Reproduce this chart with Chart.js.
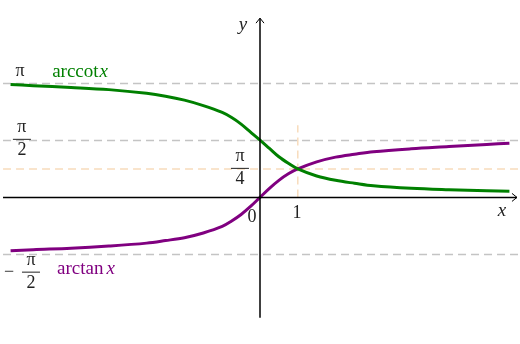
<!DOCTYPE html>
<html>
<head>
<meta charset="utf-8">
<script src="https://cdn.jsdelivr.net/npm/chart.js@4.4.1/dist/chart.umd.min.js"></script>
<style>
  html, body { margin: 0; padding: 0; background: #fff; }
  #wrap { position: relative; width: 520px; height: 344px; }
</style>
</head>
<body>
<div id="wrap"><canvas id="c" width="520" height="344"></canvas></div>
<script>
// x sample positions and curve values
const xs = [-6.6, -6, -5, -4, -3, -2.5, -2, -1.5, -1, -0.75, -0.5, -0.25, 0,
            0.25, 0.5, 0.75, 1, 1.5, 2, 2.5, 3, 4, 5, 6, 6.6];
const arctanVals = [-1.47, -1.44, -1.40, -1.34, -1.26, -1.19, -1.11, -0.98, -0.80, -0.65, -0.47, -0.25, 0,
                    0.25, 0.47, 0.65, 0.785, 0.98, 1.11, 1.19, 1.26, 1.34, 1.40, 1.46, 1.49];
const arccotVals = [3.11, 3.08, 3.03, 2.97, 2.87, 2.79, 2.68, 2.53, 2.34, 2.20, 2.02, 1.80, 1.58,
                    1.35, 1.12, 0.94, 0.785, 0.59, 0.47, 0.39, 0.32, 0.25, 0.21, 0.18, 0.17];

// reference levels
const PI = Math.PI;
const grayLevels = [PI, PI / 2, -PI / 2];
const peachLevel = PI / 4;

// view window (data units)
const X_MIN = -6.88, X_MAX = 6.88;
const Y_MIN = -4.04, Y_MAX = 5.44;

const toPts = (vals) => xs.map((x, i) => ({ x: x, y: vals[i] }));

const hLine = (y, color) => ({
  data: [{ x: -6.8, y: y }, { x: X_MAX, y: y }],
  borderColor: color,
  borderWidth: 1.5,
  borderDash: [8, 5],
  pointRadius: 0,
  showLine: true,
  order: 5,
});

// axes + arrows + text labels
const decor = {
  id: "decor",
  afterDatasetsDraw(chart) {
    const { ctx, scales } = chart;
    const X = (v) => scales.x.getPixelForValue(v);
    const Y = (v) => scales.y.getPixelForValue(v);
    ctx.save();
    ctx.strokeStyle = "#000";
    ctx.lineWidth = 1.5;
    // x axis
    ctx.beginPath();
    ctx.moveTo(X(-6.8), Y(0));
    ctx.lineTo(X(6.8), Y(0));
    ctx.stroke();
    ctx.beginPath();
    ctx.lineWidth = 1;
    ctx.moveTo(X(6.8) - 5, Y(0) - 4);
    ctx.lineTo(X(6.8), Y(0));
    ctx.lineTo(X(6.8) - 5, Y(0) + 4);
    ctx.stroke();
    // y axis
    ctx.lineWidth = 1.5;
    ctx.beginPath();
    ctx.moveTo(X(0), Y(-3.32));
    ctx.lineTo(X(0), Y(4.94));
    ctx.stroke();
    ctx.lineWidth = 1;
    ctx.beginPath();
    ctx.moveTo(X(0) - 4, Y(4.94) + 5);
    ctx.lineTo(X(0), Y(4.94));
    ctx.lineTo(X(0) + 4, Y(4.94) + 5);
    ctx.stroke();

    const serif = '"Liberation Serif", "DejaVu Serif", serif';
    const text = (s, x, y, opts) => {
      ctx.font = (opts.italic ? "italic " : "") + opts.size + "px " + serif;
      ctx.fillStyle = opts.color || "#222";
      ctx.textAlign = opts.align || "center";
      ctx.textBaseline = opts.base || "middle";
      ctx.fillText(s, x, y);
    };
    const frac = (num, den, cx, barY) => {
      text(num, cx, barY - 3, { size: 18, base: "bottom" });
      ctx.strokeStyle = "#222";
      ctx.lineWidth = 1;
      ctx.beginPath();
      ctx.moveTo(cx - 9, barY);
      ctx.lineTo(cx + 9, barY);
      ctx.stroke();
      text(den, cx, barY + 2, { size: 18, base: "top" });
    };

    text("π", X(-6.35), Y(3.48), { size: 18 });
    frac("π", "2", X(-6.30), Y(1.6));
    frac("π", "4", X(-0.53), Y(0.80));
    text("−", X(-6.64), Y(-2.06), { size: 18 });
    frac("π", "2", X(-6.06), Y(-2.06));
    text("0", X(-0.21), Y(-0.54), { size: 18 });
    text("1", X(0.98), Y(-0.43), { size: 18 });
    text("x", X(6.4), Y(-0.38), { size: 19, italic: true });
    text("y", X(-0.45), Y(4.75), { size: 19, italic: true });

    // curve names
    const green = "#008000", purple = "#800080";
    let x0 = X(-5.5);
    text("arccot", x0, Y(3.31), { size: 19, color: green, align: "left", base: "alphabetic" });
    ctx.font = '19px ' + serif;
    let w = ctx.measureText("arccot").width;
    text("x", x0 + w + 1, Y(3.31), { size: 19, color: green, align: "left", base: "alphabetic", italic: true });
    x0 = X(-5.37);
    text("arctan", x0, Y(-2.11), { size: 19, color: purple, align: "left", base: "alphabetic" });
    ctx.font = '19px ' + serif;
    w = ctx.measureText("arctan").width;
    text("x", x0 + w + 3, Y(-2.11), { size: 19, color: purple, align: "left", base: "alphabetic", italic: true });
    ctx.restore();
  },
};

new Chart(document.getElementById("c"), {
  type: "scatter",
  data: {
    datasets: [
      ...grayLevels.map((y) => hLine(y, "#c4c4c4")),
      hLine(peachLevel, "#f8dcbc"),
      {
        data: [{ x: 1, y: 0 }, { x: 1, y: 1.99 }],
        borderColor: "#f8dcbc",
        borderWidth: 1.5,
        borderDash: [8, 5],
        pointRadius: 0,
        showLine: true,
        order: 5,
      },
      {
        data: toPts(arccotVals),
        borderColor: "#008000",
        borderWidth: 3,
        pointRadius: 0,
        showLine: true,
        tension: 0.35,
        order: 1,
      },
      {
        data: toPts(arctanVals),
        borderColor: "#800080",
        borderWidth: 3,
        pointRadius: 0,
        showLine: true,
        tension: 0.35,
        order: 1,
      },
    ],
  },
  options: {
    responsive: false,
    animation: false,
    layout: { padding: 0 },
    plugins: { legend: { display: false }, tooltip: { enabled: false } },
    scales: {
      x: { type: "linear", min: X_MIN, max: X_MAX, display: false },
      y: { type: "linear", min: Y_MIN, max: Y_MAX, display: false },
    },
  },
  plugins: [decor],
});
</script>
</body>
</html>
